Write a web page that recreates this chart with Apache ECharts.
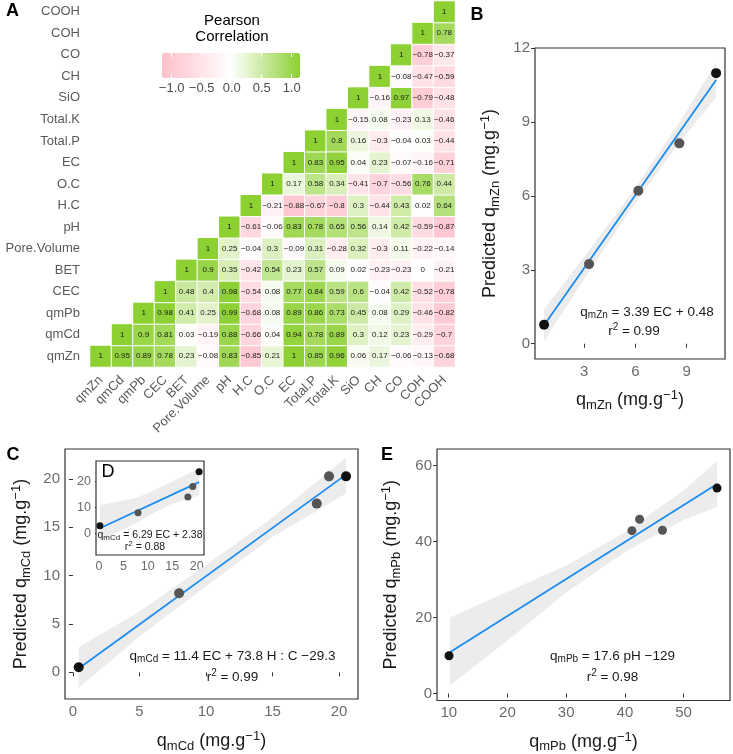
<!DOCTYPE html>
<html><head><meta charset="utf-8">
<script src="https://cdn.jsdelivr.net/npm/echarts@6/dist/echarts.min.js"></script>
<style>html,body{margin:0;padding:0;background:#fff}#c{width:733px;height:754px}</style>
</head><body><div id="c"></div>
<script>
// ---------- DATA ----------
const vars = ['qmZn','qmCd','qmPb','CEC','BET','Pore.Volume','pH','H.C','O.C','EC','Total.P','Total.K','SiO','CH','CO','COH','COOH'];
// each row starts at its own diagonal cell
const r_qmZn = [1, 0.95, 0.89, 0.78, 0.23, -0.08, 0.83, -0.85, 0.21, 1, 0.85, 0.96, 0.06, 0.17, -0.06, -0.13, -0.68];
const r_qmCd = [1, 0.9, 0.81, 0.03, -0.19, 0.88, -0.66, 0.04, 0.94, 0.78, 0.89, 0.3, 0.12, 0.23, -0.29, -0.7];
const r_qmPb = [1, 0.98, 0.41, 0.25, 0.99, -0.68, 0.08, 0.89, 0.86, 0.73, 0.45, 0.08, 0.29, -0.46, -0.82];
const r_CEC = [1, 0.48, 0.4, 0.98, -0.54, 0.08, 0.77, 0.84, 0.59, 0.6, -0.04, 0.42, -0.52, -0.78];
const r_BET = [1, 0.9, 0.35, -0.42, 0.54, 0.23, 0.57, 0.09, 0.02, -0.23, -0.23, 0, -0.21];
const r_PoreVolume = [1, 0.25, -0.04, 0.3, -0.09, 0.31, -0.28, 0.32, -0.3, 0.11, -0.22, -0.14];
const r_pH = [1, -0.61, -0.06, 0.83, 0.78, 0.65, 0.56, 0.14, 0.42, -0.59, -0.87];
const r_HC = [1, -0.21, -0.88, -0.67, -0.8, 0.3, -0.44, 0.43, 0.02, 0.64];
const r_OC = [1, 0.17, 0.58, 0.34, -0.41, -0.7, -0.56, 0.76, 0.44];
const r_EC = [1, 0.83, 0.95, 0.04, 0.23, -0.07, -0.16, -0.71];
const r_TotalP = [1, 0.8, 0.16, -0.3, -0.04, 0.03, -0.44];
const r_TotalK = [1, -0.15, 0.08, -0.23, 0.13, -0.46];
const r_SiO = [1, -0.16, 0.97, -0.79, -0.48];
const r_CH = [1, -0.08, -0.47, -0.59];
const r_CO = [1, -0.78, -0.37];
const r_COH = [1, 0.78];
const r_COOH = [1];
const legendTicks = [-1, -0.5, 0, 0.5, 1];

// Panel B (qmZn)
const obsB = [0.66, 3.29, 6.17, 8.57, 10.72];
const predB = [0.77, 3.23, 6.21, 8.13, 10.98];
const fitBx = [0.66, 10.72], fitBy = [0.75, 10.7];
const ribBx = [0.66, 3, 5.7, 8.5, 10.72];
const ribBlo = [0.1, 2.62, 5.43, 8.1, 10.0];
const ribBhi = [1.4, 3.52, 6.03, 8.9, 11.4];
const ticksBx = [3, 6, 9], ticksBy = [0, 3, 6, 9, 12];

// Panel C (qmCd)
const obsC = [0.43, 7.98, 18.33, 19.25, 20.53];
const predC = [0.52, 8.17, 17.45, 20.27, 20.27];
const fitCx = [0.43, 20.53], fitCy = [0.4, 20.45];
const ribCx = [0.43, 5, 10, 15, 20.53];
const ribClo = [-1.6, 3.7, 8.9, 14.0, 18.5];
const ribChi = [2.6, 6.3, 11.1, 16.0, 22.2];
const ticksCx = [0, 5, 10, 15, 20], ticksCy = [0, 5, 10, 15, 20];

// Panel D (inset, qmCd from EC only)
const obsD = [0.2, 8.0, 18.2, 19.2, 20.5];
const predD = [2.94, 7.98, 14.1, 18.1, 23.8];
const fitDx = [0.2, 20.5], fitDy = [1.95, 19.8];
const ribDx = [0.2, 7.5, 11, 14.3, 20.5];
const ribDlo = [-3, 3.9, 7.6, 11, 14.8];
const ribDhi = [11.0, 13.6, 16.4, 19.4, 25.2];
const ticksDx = [0, 5, 10, 15, 20], ticksDy = [0, 10, 20];

// Panel E (qmPb)
const obsE = [10.05, 41.2, 42.5, 46.4, 55.7];
const predE = [9.96, 42.9, 45.9, 43.0, 54.1];
const fitEx = [10.2, 55.7], fitEy = [10.85, 55.2];
const ribEx = [10.2, 20, 30, 40, 50, 55.7];
const ribElo = [2.1, 14.0, 26.6, 37.3, 45.7, 49.1];
const ribEhi = [20.0, 26.8, 33.7, 42.5, 53.5, 61.3];
const ticksEx = [10, 20, 30, 40, 50], ticksEy = [0, 20, 40, 60];

// ---------- BUILD ----------
const FONT = '"Liberation Sans", Arial, Helvetica, sans-serif';
const TICKC = '#6b6b6b';
const TXT = '#1a1a1a';
const rows = [r_qmZn, r_qmCd, r_qmPb, r_CEC, r_BET, r_PoreVolume, r_pH, r_HC, r_OC, r_EC, r_TotalP, r_TotalK, r_SiO, r_CH, r_CO, r_COH, r_COOH];
const heatData = [];
rows.forEach((row, i) => row.forEach((v, k) => heatData.push([i + k, i, v])));
const fmtNum = v => String(v).replace('-', '\u2212');

function rich(fs) {
  const sfs = Math.round(fs * 0.72);
  return {
    n: {fontSize: fs, fontFamily: FONT, color: TXT},
    s: {fontSize: sfs, fontFamily: FONT, color: TXT, padding: [Math.round(fs * 0.5), 0, 0, 0]},
    p: {fontSize: sfs, fontFamily: FONT, color: TXT, padding: [0, 0, Math.round(fs * 0.55), 0]}
  };
}
function valAxis(gi, min, max, ticks, fs, extra) {
  return Object.assign({
    type: 'value', gridIndex: gi, min: min, max: max,
    axisLine: {show: false},
    axisTick: {show: true, customValues: ticks, length: 4, lineStyle: {color: '#333', width: 1}},
    axisLabel: {customValues: ticks, color: TICKC, fontSize: fs, fontFamily: FONT, margin: 5},
    splitLine: {show: false}
  }, extra || {});
}
function ribbon(xi, yi, xs, lo, hi) {
  return {
    type: 'custom', xAxisIndex: xi, yAxisIndex: yi, silent: true, z: 1,
    data: xs.map((x, i) => [x, lo[i], hi[i]]),
    encode: {x: 0, y: [1, 2]},
    renderItem: function (params, api) {
      if (params.dataIndex !== 0) return null;
      const up = xs.map((x, i) => api.coord([x, hi[i]]));
      const dn = xs.map((x, i) => api.coord([x, lo[i]])).reverse();
      return {type: 'polygon', shape: {points: up.concat(dn)}, style: {fill: '#ececec'}};
    }
  };
}
function fit(xi, yi, xs, ys) {
  return {type: 'line', xAxisIndex: xi, yAxisIndex: yi, data: xs.map((x, i) => [x, ys[i]]),
    symbol: 'none', silent: true, z: 3, lineStyle: {color: '#1b8cf0', width: 1.8}};
}
function pts(xi, yi, xs, ys, size) {
  const n = xs.length;
  return {type: 'scatter', xAxisIndex: xi, yAxisIndex: yi, data: xs.map((x, i) => [x, ys[i]]),
    symbolSize: size, z: 4, silent: true,
    itemStyle: {color: p => (p.dataIndex === 0 || p.dataIndex === n - 1) ? '#111' : '#555', opacity: 1}};
}
const nameRich = rich(18);
function axName(main, sub, pre) {
  return (pre ? '{n|' + pre + '}' : '') + '{n|q}{s|' + sub + '}{n| (mg.g}{p|\u22121}{n|)}';
}
function eqText(x, y, str, fs) {
  return {type: 'text', x: x, y: y, z: 50, style: {text: str, rich: rich(fs), align: 'center', verticalAlign: 'middle', fill: TXT}};
}
function plain(x, y, str, fs, weight) {
  return {type: 'text', x: x, y: y, z: 50, style: {text: str, font: (weight || 'normal') + ' ' + fs + 'px ' + FONT, fill: '#000', align: 'center', verticalAlign: 'middle'}};
}

const option = {
  animation: false,
  backgroundColor: '#fff',
  textStyle: {fontFamily: FONT},
  grid: [
    {left: 90, top: 1, width: 365, height: 366},
    {left: 171.7, top: 53, width: 120, height: 25},
    {left: 535, top: 48, width: 190, height: 311, show: true, borderColor: '#333', borderWidth: 1.2, backgroundColor: '#fff'},
    {left: 65, top: 449, width: 293, height: 250, show: true, borderColor: '#333', borderWidth: 1.2, backgroundColor: '#fff'},
    {left: 96, top: 461, width: 108, height: 94, show: true, borderColor: '#333', borderWidth: 1.2, backgroundColor: '#fff', z: 5},
    {left: 437, top: 449, width: 293, height: 253, show: true, borderColor: '#333', borderWidth: 1.2, backgroundColor: '#fff'}
  ],
  xAxis: [
    {type: 'category', gridIndex: 0, data: vars, axisLine: {show: false}, axisTick: {show: false},
      axisLabel: {rotate: 45, interval: 0, fontSize: 13, color: '#5a5a5a', fontFamily: FONT, margin: 11}, splitLine: {show: false}},
    {type: 'value', gridIndex: 1, min: -1, max: 1, position: 'bottom', z: 10, axisLine: {show: false},
      axisTick: {show: true, inside: true, length: 4, customValues: legendTicks, lineStyle: {color: '#fff', width: 1}},
      axisLabel: {customValues: legendTicks, fontSize: 13, color: '#4d4d4d', fontFamily: FONT, margin: 4, formatter: v => v.toFixed(1).replace('-', '\u2212')},
      splitLine: {show: false}},
    {type: 'value', gridIndex: 1, min: -1, max: 1, position: 'top', z: 10, axisLine: {show: false},
      axisTick: {show: true, inside: true, length: 4, customValues: legendTicks, lineStyle: {color: '#fff', width: 1}},
      axisLabel: {show: false}, splitLine: {show: false}},
    valAxis(2, 0.13, 11.24, ticksBx, 15, {name: axName('', 'mZn'), nameLocation: 'middle', nameGap: 30, nameTextStyle: {rich: nameRich}}),
    valAxis(3, -0.6, 21.43, ticksCx, 15, {name: axName('', 'mCd'), nameLocation: 'middle', nameGap: 31, nameTextStyle: {rich: nameRich}}),
    valAxis(4, -0.6, 21.5, ticksDx, 12.5),
    valAxis(5, 8.0, 57.9, ticksEx, 15, {name: axName('', 'mPb'), nameLocation: 'middle', nameGap: 30, nameTextStyle: {rich: nameRich}})
  ],
  yAxis: [
    {type: 'category', gridIndex: 0, data: vars, axisLine: {show: false}, axisTick: {show: false},
      axisLabel: {interval: 0, fontSize: 13, color: '#5a5a5a', fontFamily: FONT, margin: 10}, splitLine: {show: false}},
    {type: 'value', gridIndex: 1, min: 0, max: 1, show: false},
    valAxis(2, -0.62, 12.0, ticksBy, 15, {name: axName('', 'mZn', 'Predicted '), nameLocation: 'middle', nameGap: 33, nameTextStyle: {rich: nameRich}}),
    valAxis(3, -2.76, 23.1, ticksCy, 15, {name: axName('', 'mCd', 'Predicted '), nameLocation: 'middle', nameGap: 32, nameTextStyle: {rich: nameRich}}),
    valAxis(4, -8.4, 28, ticksDy, 12.5),
    valAxis(5, -1.83, 64.4, ticksEy, 15, {name: axName('', 'mPb', 'Predicted '), nameLocation: 'middle', nameGap: 34, nameTextStyle: {rich: nameRich}})
  ],
  visualMap: {
    type: 'continuous', min: -1, max: 1, seriesIndex: 0, dimension: 2, orient: 'horizontal',
    left: 162, top: 53, itemWidth: 25, itemHeight: 138, padding: 0, calculable: false, hoverLink: false,
    inRange: {color: ['#FFC0CB', '#FFFFFF', '#8CD032']}
  },
  series: [
    {type: 'heatmap', xAxisIndex: 0, yAxisIndex: 0, data: heatData, emphasis: {disabled: true},
      itemStyle: {borderColor: '#fff', borderWidth: 1},
      label: {show: true, fontSize: 8, fontFamily: FONT, color: '#1a1a1a', formatter: p => fmtNum(p.value[2])}},
    ribbon(3, 2, ribBx, ribBlo, ribBhi), fit(3, 2, fitBx, fitBy), pts(3, 2, obsB, predB, 10),
    ribbon(4, 3, ribCx, ribClo, ribChi), fit(4, 3, fitCx, fitCy), pts(4, 3, obsC, predC, 10),
    Object.assign(ribbon(5, 4, ribDx, ribDlo, ribDhi), {z: 6}), Object.assign(fit(5, 4, fitDx, fitDy), {z: 7}), Object.assign(pts(5, 4, obsD, predD, 7), {z: 8}),
    ribbon(6, 5, ribEx, ribElo, ribEhi), fit(6, 5, fitEx, fitEy), pts(6, 5, obsE, predE, 9)
  ],
  graphic: [
    plain(12.5, 11, 'A', 18, 'bold'),
    plain(477, 15, 'B', 18, 'bold'),
    plain(13, 455, 'C', 18, 'bold'),
    plain(387, 455, 'E', 18, 'bold'),
    plain(108, 472, 'D', 18, 'normal'),
    plain(232, 21, 'Pearson', 15, 'normal'),
    plain(232, 37, 'Correlation', 15, 'normal'),
    eqText(647, 312, '{n|q}{s|mZn}{n| = 3.39 EC + 0.48}', 13.5),
    eqText(634, 331, '{n|r}{p|2}{n| = 0.99}', 13.5),
    eqText(232.5, 656, '{n|q}{s|mCd}{n| = 11.4 EC + 73.8 H : C \u221229.3}', 13.5),
    eqText(232.5, 677, '{n|r}{p|2}{n| = 0.99}', 13.5),
    eqText(150, 535, '{n|q}{s|mCd}{n| = 6.29 EC + 2.38}', 10.5),
    eqText(145, 547, '{n|r}{p|2}{n| = 0.88}', 10.5),
    eqText(612.5, 656, '{n|q}{s|mPb}{n| = 17.6 pH \u2212129}', 13.5),
    eqText(612.5, 677, '{n|r}{p|2}{n| = 0.98}', 13.5)
  ]
};
const chart = echarts.init(document.getElementById('c'), null, {renderer: 'canvas'});
chart.setOption(option);
</script></body></html>
